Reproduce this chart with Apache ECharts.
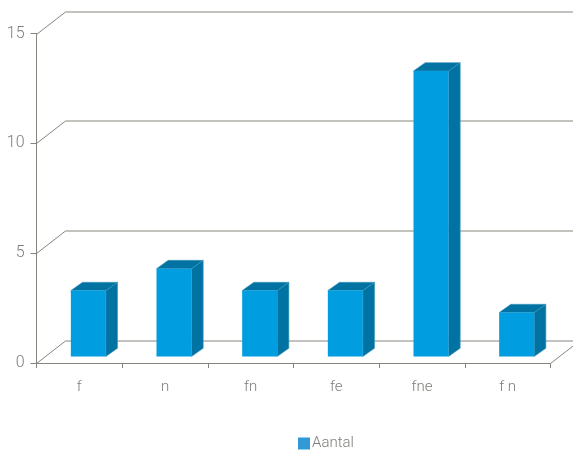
<!DOCTYPE html>
<html>
<head>
<meta charset="utf-8">
<style>html,body{margin:0;padding:0;background:#fff}#c{width:573px;height:452px}</style>
<script src="https://cdn.jsdelivr.net/npm/echarts@6/dist/echarts.min.js"></script>
</head>
<body>
<div id="c"></div>
<script>
var categories = ['f', 'n', 'fn', 'fe', 'fne', 'f n'];
var values = [3, 4, 3, 3, 13, 2];
var yTicks = [0, 5, 10, 15];
var seriesName = 'Aantal';

var FRONT_COL = '#009ee0', DARK_COL = '#0073a3', EDGE_COL = '#3d95b8', LINE_COL = '#85857e', TEXT_COL = '#7d7d78';
var WALL_DX = 29, WALL_DY = -22.5, BAR_OX = 9, BAR_OY = -6.5, DEPTH_X = 11.7, DEPTH_Y = -8.3, BAR_W = 35;
var FONT = 'Roboto, "Liberation Sans", Arial, sans-serif';

var chart = echarts.init(document.getElementById('c'), null, {renderer: 'canvas'});
chart.setOption({
  animation: false,
  backgroundColor: '#fff',
  grid: {left: 36.5, right: 22.5, top: 33.5, bottom: 89, containLabel: false},
  legend: {
    data: [seriesName], top: 436, left: 296, itemWidth: 12, itemHeight: 12, itemGap: 2,
    icon: 'rect', padding: [0, 0, 0, 2],
    textStyle: {color: TEXT_COL, fontSize: 15, fontWeight: 300, fontFamily: FONT, padding: [0, 0, 0, -3]}
  },
  xAxis: {
    type: 'category', data: categories,
    axisLine: {lineStyle: {color: LINE_COL, width: 1}},
    axisTick: {show: true, length: 5, lineStyle: {color: LINE_COL}},
    axisLabel: {color: TEXT_COL, fontSize: 15, fontWeight: 300, fontFamily: FONT, margin: 17},
    splitLine: {show: false}
  },
  yAxis: {
    type: 'value', min: 0, max: 15, interval: 5,
    axisLine: {show: true, lineStyle: {color: LINE_COL, width: 1}},
    axisTick: {show: true, length: 6, lineStyle: {color: LINE_COL}},
    axisLabel: {color: TEXT_COL, fontSize: 16, fontWeight: 300, fontFamily: FONT, margin: 12},
    splitLine: {show: false}
  },
  series: [
    {
      type: 'custom', name: 'walls', silent: true, z: 1, clip: false,
      data: yTicks.map(function (t) { return [0, t]; }),
      encode: {x: 0, y: 1},
      renderItem: function (params, api) {
        var cs = params.coordSys;
        var y = Math.round(api.coord([0, api.value(1)])[1]) + 0.5;
        var x0 = cs.x, x1 = cs.x + cs.width;
        var by = y + WALL_DY;
        var pts = [[x0, y], [x0 + WALL_DX, by], [x1 + WALL_DX, by]];
        var children = [{type: 'polyline', shape: {points: pts}, style: {stroke: LINE_COL, lineWidth: 1, fill: 'none'}}];
        if (api.value(1) === 0) {
          children.push({type: 'line', shape: {x1: x1, y1: y, x2: x1 + WALL_DX, y2: by}, style: {stroke: LINE_COL, lineWidth: 1}});
        }
        return {type: 'group', children: children};
      }
    },
    {
      type: 'custom', name: seriesName, z: 3, clip: false,
      itemStyle: {color: '#3399d6'},
      data: categories.map(function (c, i) { return [i, values[i]]; }),
      encode: {x: 0, y: 1},
      renderItem: function (params, api) {
        var top = api.coord([api.value(0), api.value(1)]);
        var base = api.coord([api.value(0), 0]);
        var l = top[0] - BAR_W / 2 + BAR_OX, r = l + BAR_W;
        var t = top[1] + BAR_OY, b = base[1] + BAR_OY;
        return {type: 'group', children: [
          {type: 'polygon', shape: {points: [[r, t], [r + DEPTH_X, t + DEPTH_Y], [r + DEPTH_X, b + DEPTH_Y], [r, b]]},
            style: {fill: DARK_COL, stroke: EDGE_COL, lineWidth: 0.6}},
          {type: 'polygon', shape: {points: [[l, t], [l + DEPTH_X, t + DEPTH_Y], [r + DEPTH_X, t + DEPTH_Y], [r, t]]},
            style: {fill: DARK_COL, stroke: EDGE_COL, lineWidth: 0.6}},
          {type: 'rect', shape: {x: l, y: t, width: BAR_W, height: b - t}, style: {fill: FRONT_COL}}
        ]};
      }
    }
  ]
});
</script>
</body>
</html>
